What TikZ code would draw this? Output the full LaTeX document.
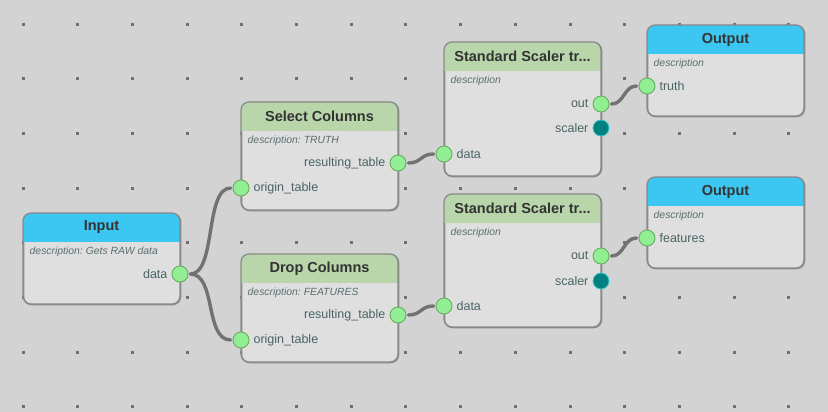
\documentclass[tikz,border=0pt]{standalone}
\usepackage{fontspec}
\setmainfont{Liberation Sans}
\usetikzlibrary{calc}
\frenchspacing
\definecolor{bgc}{HTML}{D3D3D3}
\definecolor{bodyc}{HTML}{DFDFDF}
\definecolor{edgec}{HTML}{8A8A8A}
\definecolor{hblue}{HTML}{3CC6F2}
\definecolor{hgreen}{HTML}{B9D5AA}
\definecolor{pgreen}{HTML}{92EE92}
\definecolor{pgreenb}{HTML}{62A85A}
\definecolor{ptealc}{HTML}{008080}
\definecolor{ptealb}{HTML}{3CC8C8}
\definecolor{lblc}{HTML}{4B6464}
\definecolor{dscc}{HTML}{5A6E6E}
\definecolor{ttlc}{HTML}{333333}
\definecolor{wirec}{HTML}{727272}
\definecolor{dotc}{HTML}{707070}
\tikzset{
  boxbody/.style={draw=edgec, line width=1.3pt, fill=bodyc, rounded corners=8pt, inner sep=0pt, anchor=north west, minimum width=157pt},
  porti/.style={circle, fill=pgreen, draw=pgreenb, line width=0.8pt, minimum size=16pt, inner sep=0pt},
  portt/.style={circle, fill=ptealc, draw=ptealb, line width=0.8pt, minimum size=16pt, inner sep=0pt},
  ttl/.style={font=\bfseries\fontsize{14.5}{16}\selectfont, text=ttlc, inner sep=0pt},
  dsc/.style={font=\itshape\fontsize{10.4}{12}\selectfont, text=dscc, anchor=west, inner sep=0pt},
  plbl/.style={font=\fontsize{12.5}{14}\selectfont, text=lblc, inner sep=0pt},
  wirestyle/.style={draw=wirec, line width=3.4pt, line cap=round, shorten <=2pt, shorten >=2pt},
  griddot/.style={fill=dotc}
}
% #1 name, #2 x, #3 y, #4 height, #5 header colour, #6 title, #7 description
\newcommand{\flowbox}[7]{%
  \node[boxbody, minimum height=#4pt] (#1) at (#2,#3) {};
  \begin{scope}
    \clip[rounded corners=8pt] (#2,#3) rectangle ++(157,#4);
    \fill[#5] (#2,#3) rectangle ++(157,29);
  \end{scope}
  \draw[edgec, line width=1.3pt, rounded corners=8pt] (#2,#3) rectangle ++(157,#4);
  \node[ttl] (#1-t) at ($(#2,#3)+(78.5,14.5)$) {#6};
  \node[dsc] (#1-d) at ($(#2,#3)+(6.5,38.5)$) {#7};
}
\begin{document}
\begin{tikzpicture}[x=1pt,y=-1pt]
\fill[bgc] (0,0) rectangle (828,412);
\useasboundingbox (0,0) rectangle (828,412);
% grid dots
\foreach \i in {0,...,14}{
  \foreach \j in {0,...,7}{
    \fill[griddot] ({23.3+54.67*\i-1.5},{24.3+54.67*\j-1.5}) rectangle ++(3,3);
  }
}
% boxes
\flowbox{inp}{23}{213}{91}{hblue}{Input}{description: Gets RAW data}
\flowbox{sel}{241}{102}{108}{hgreen}{Select Columns}{description: TRUTH}
\flowbox{drp}{241}{254}{108}{hgreen}{Drop Columns}{description: FEATURES}
\flowbox{sca}{444}{42}{134}{hgreen}{Standard Scaler tr...}{description}
\flowbox{scb}{444}{194}{133}{hgreen}{Standard Scaler tr...}{description}
\flowbox{oua}{647}{25}{91}{hblue}{Output}{description}
\flowbox{oub}{647}{177}{91}{hblue}{Output}{description}
% ports
\node[porti] (inp-data) at (180,274) {};
\node[plbl, anchor=east] (inp-data-l) at ($(inp-data.west)+(-4,0)$) {data};

\node[porti] (sel-out) at (398,163) {};
\node[plbl, anchor=east] (sel-out-l) at ($(sel-out.west)+(-4,0)$) {resulting\_table};
\node[porti] (sel-in) at (241,188) {};
\node[plbl, anchor=west] (sel-in-l) at ($(sel-in.east)+(4,0)$) {origin\_table};

\node[porti] (drp-out) at (398,315) {};
\node[plbl, anchor=east] (drp-out-l) at ($(drp-out.west)+(-4,0)$) {resulting\_table};
\node[porti] (drp-in) at (241,340) {};
\node[plbl, anchor=west] (drp-in-l) at ($(drp-in.east)+(4,0)$) {origin\_table};

\node[porti] (sca-out) at (601,104) {};
\node[plbl, anchor=east] (sca-out-l) at ($(sca-out.west)+(-4,0)$) {out};
\node[portt] (sca-sc) at (601,128) {};
\node[plbl, anchor=east] (sca-sc-l) at ($(sca-sc.west)+(-4,0)$) {scaler};
\node[porti] (sca-in) at (444,154) {};
\node[plbl, anchor=west] (sca-in-l) at ($(sca-in.east)+(4,0)$) {data};

\node[porti] (scb-out) at (601,256) {};
\node[plbl, anchor=east] (scb-out-l) at ($(scb-out.west)+(-4,0)$) {out};
\node[portt] (scb-sc) at (601,281) {};
\node[plbl, anchor=east] (scb-sc-l) at ($(scb-sc.west)+(-4,0)$) {scaler};
\node[porti] (scb-in) at (444,306) {};
\node[plbl, anchor=west] (scb-in-l) at ($(scb-in.east)+(4,0)$) {data};

\node[porti] (oua-in) at (647,86) {};
\node[plbl, anchor=west] (oua-in-l) at ($(oua-in.east)+(4,0)$) {truth};
\node[porti] (oub-in) at (647,238) {};
\node[plbl, anchor=west] (oub-in-l) at ($(oub-in.east)+(4,0)$) {features};

% wires
\draw[wirestyle] (inp-data.east) .. controls +(28,0) and +(-28,0) .. (sel-in.west);
\draw[wirestyle] (inp-data.east) .. controls +(28,0) and +(-28,0) .. (drp-in.west);
\draw[wirestyle] (sel-out.east) .. controls +(15,0) and +(-15,0) .. (sca-in.west);
\draw[wirestyle] (drp-out.east) .. controls +(15,0) and +(-15,0) .. (scb-in.west);
\draw[wirestyle] (sca-out.east) .. controls +(15,0) and +(-15,0) .. (oua-in.west);
\draw[wirestyle] (scb-out.east) .. controls +(15,0) and +(-15,0) .. (oub-in.west);
\end{tikzpicture}
\end{document}
